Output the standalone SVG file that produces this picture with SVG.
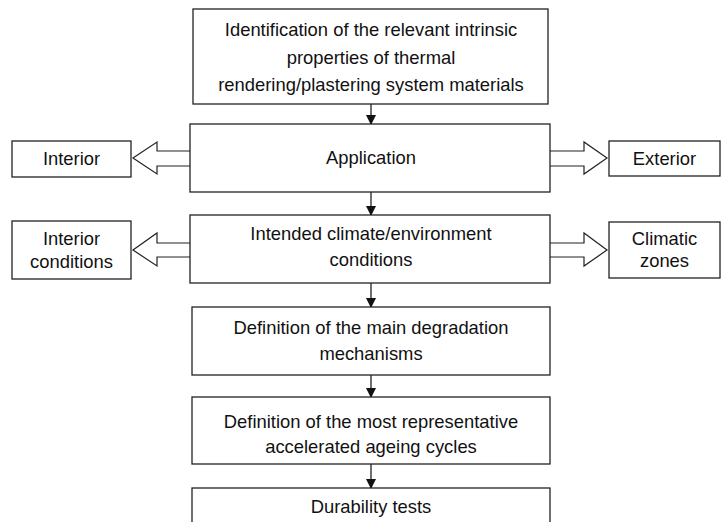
<svg xmlns="http://www.w3.org/2000/svg" width="721" height="522" viewBox="0 0 721 522">
<style>
.box{fill:#fff;stroke:#222;stroke-width:1.3}
.blk{fill:#fff;stroke:#222;stroke-width:1.2;stroke-linejoin:miter}
.ln{stroke:#222;stroke-width:1.3;fill:none}
text{font-family:"Liberation Sans",Arial,sans-serif;font-size:18.4px;fill:#111;text-anchor:middle}
</style>
<defs>
<marker id="ah" markerWidth="10" markerHeight="10" refX="9" refY="5" orient="auto" markerUnits="userSpaceOnUse">
<path d="M0,0 L10,5 L0,10 Z" fill="#111"/>
</marker>
</defs>
<g id="connectors">
<line class="ln" x1="371" y1="104" x2="371" y2="124" marker-end="url(#ah)"/>
<line class="ln" x1="371" y1="192" x2="371" y2="215" marker-end="url(#ah)"/>
<line class="ln" x1="371" y1="283" x2="371" y2="307" marker-end="url(#ah)"/>
<line class="ln" x1="371" y1="375" x2="371" y2="397" marker-end="url(#ah)"/>
<line class="ln" x1="371" y1="464" x2="371" y2="488" marker-end="url(#ah)"/>
<path class="blk" d="M190,151 L157,151 L157,142 L133,158 L157,174 L157,166 L190,166"/>
<path class="blk" d="M550,151 L584,151 L584,142 L607,158 L584,174 L584,166 L550,166"/>
<path class="blk" d="M190,243 L157,243 L157,233 L133,250 L157,266 L157,257 L190,257"/>
<path class="blk" d="M550,243 L584,243 L584,233 L607,250 L584,266 L584,257 L550,257"/>
</g>
<g id="n1">
<rect class="box" x="193" y="9" width="355" height="95"/>
<text x="371" y="36">Identification of the relevant intrinsic</text>
<text x="371" y="63.5">properties of thermal</text>
<text x="371" y="91">rendering/plastering system materials</text>
</g>
<g id="n2">
<rect class="box" x="190" y="124" width="360" height="68"/>
<text x="371" y="164">Application</text>
</g>
<g id="n-interior">
<rect class="box" x="12" y="141" width="119" height="36"/>
<text x="71.5" y="165">Interior</text>
</g>
<g id="n-exterior">
<rect class="box" x="609" y="141" width="111" height="35"/>
<text x="664.5" y="165">Exterior</text>
</g>
<g id="n3">
<rect class="box" x="190" y="215" width="360" height="68"/>
<text x="371" y="240">Intended climate/environment</text>
<text x="371" y="266">conditions</text>
</g>
<g id="n-intcond">
<rect class="box" x="12" y="221" width="119" height="58"/>
<text x="71.5" y="245">Interior</text>
<text x="71.5" y="268">conditions</text>
</g>
<g id="n-climatic">
<rect class="box" x="609" y="222" width="111" height="56"/>
<text x="664.5" y="245">Climatic</text>
<text x="664.5" y="267">zones</text>
</g>
<g id="n4">
<rect class="box" x="192" y="307" width="358" height="68"/>
<text x="371" y="334">Definition of the main degradation</text>
<text x="371" y="360">mechanisms</text>
</g>
<g id="n5">
<rect class="box" x="192" y="397" width="358" height="67"/>
<text x="371" y="428">Definition of the most representative</text>
<text x="371" y="453">accelerated ageing cycles</text>
</g>
<g id="n6">
<rect class="box" x="192" y="488" width="358" height="40"/>
<text x="371" y="513">Durability tests</text>
</g>
</svg>
